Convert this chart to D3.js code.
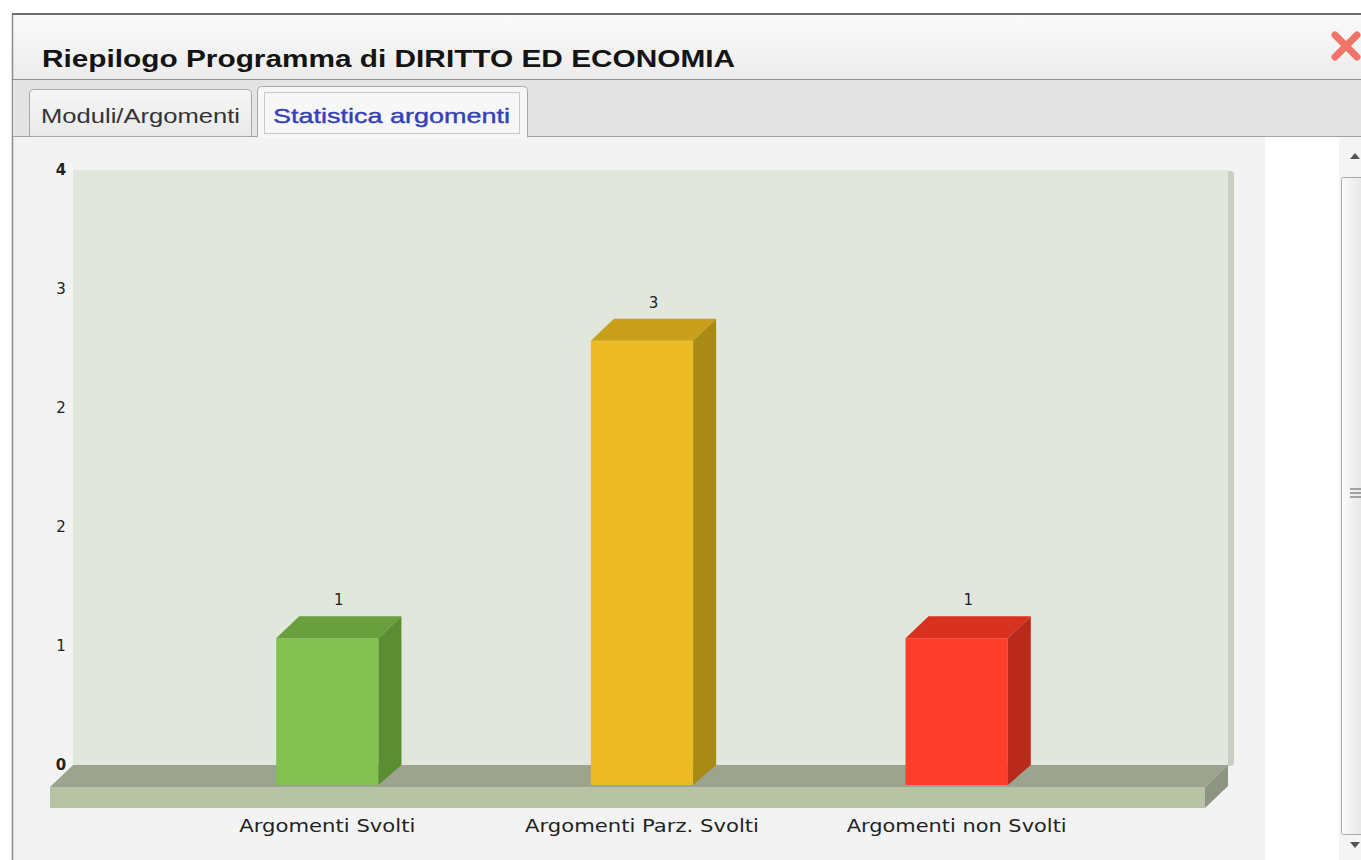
<!DOCTYPE html>
<html>
<head>
<meta charset="utf-8">
<script src="https://cdn.jsdelivr.net/npm/d3@7"></script>
<style>
html,body{margin:0;padding:0;background:#fff;overflow:hidden;}
svg{display:block;}
</style>
</head>
<body>
<div id="chart"></div>
<script>
// ---- data ----
const title = "Riepilogo Programma di DIRITTO ED ECONOMIA";
const tabLabels = ["Moduli/Argomenti", "Statistica argomenti"];
const categories = ["Argomenti Svolti", "Argomenti Parz. Svolti", "Argomenti non Svolti"];
const values = [1, 3, 1];
const yTickValues = [0, 0.8, 1.6, 2.4, 3.2, 4];
const yMax = 4;
const frontColors = ["#82c152", "#ecba22", "#fe3d2b"];
const topColors = ["#6a9f3e", "#c9a01c", "#d9311f"];
const sideColors = ["#5b8d33", "#a98a15", "#b92a1c"];

const W = 1361, H = 860;
const svg = d3.select("#chart").append("svg").attr("width", W).attr("height", H);
const defs = svg.append("defs");

const g1 = defs.append("linearGradient").attr("id","titleGrad").attr("x1",0).attr("y1",0).attr("x2",0).attr("y2",1);
g1.append("stop").attr("offset","0%").attr("stop-color","#fafafa");
g1.append("stop").attr("offset","100%").attr("stop-color","#ececec");
const g2 = defs.append("linearGradient").attr("id","tabGrad").attr("x1",0).attr("y1",0).attr("x2",0).attr("y2",1);
g2.append("stop").attr("offset","0%").attr("stop-color","#f6f6f6");
g2.append("stop").attr("offset","100%").attr("stop-color","#e9e9e9");
const g3 = defs.append("linearGradient").attr("id","thumbGrad").attr("x1",0).attr("y1",0).attr("x2",1).attr("y2",0);
g3.append("stop").attr("offset","0%").attr("stop-color","#fbfbfb");
g3.append("stop").attr("offset","100%").attr("stop-color","#e6e6e6");

// ---- dialog frame ----
svg.append("rect").attr("x",0).attr("y",0).attr("width",W).attr("height",H).attr("fill","#ffffff");
svg.append("rect").attr("x",12).attr("y",14).attr("width",W-12).attr("height",H-14).attr("fill","#f3f3f3");
svg.append("rect").attr("x",13).attr("y",15).attr("width",W-13).attr("height",64).attr("fill","url(#titleGrad)");
svg.append("line").attr("x1",12).attr("x2",W).attr("y1",14).attr("y2",14).attr("stroke","#6a6a6a").attr("stroke-width",2);
svg.append("line").attr("x1",12.5).attr("x2",12.5).attr("y1",14).attr("y2",H).attr("stroke","#8a8a8a").attr("stroke-width",1.5);
svg.append("rect").attr("x",13).attr("y",80).attr("width",W-13).attr("height",56).attr("fill","#e4e4e4");
svg.append("line").attr("x1",13).attr("x2",W).attr("y1",79.5).attr("y2",79.5).attr("stroke","#8f8f8f");
svg.append("line").attr("x1",13).attr("x2",W).attr("y1",136.5).attr("y2",136.5).attr("stroke","#a3a3a3");

svg.append("text").attr("x",42).attr("y",67)
  .attr("font-family","Liberation Sans, Arial, sans-serif").attr("font-weight","bold")
  .attr("font-size",23).attr("fill","#141414")
  .attr("textLength",693).attr("lengthAdjust","spacingAndGlyphs").text(title);

// close X
const cx = 1346, cy = 46, r = 11;
[[-1,-1,1,1],[-1,1,1,-1]].forEach(d=>{
  svg.append("line").attr("x1",cx+d[0]*r).attr("y1",cy+d[1]*r).attr("x2",cx+d[2]*r).attr("y2",cy+d[3]*r)
    .attr("stroke","#f0746a").attr("stroke-width",7).attr("stroke-linecap","round");
});

// tabs
function tabPath(x0,x1,y0,y1,rad){
  return `M${x0},${y1} L${x0},${y0+rad} Q${x0},${y0} ${x0+rad},${y0} L${x1-rad},${y0} Q${x1},${y0} ${x1},${y0+rad} L${x1},${y1}`;
}
svg.append("path").attr("d",tabPath(29.5,251.5,89.5,136.5,4)+" Z").attr("fill","url(#tabGrad)").attr("stroke","#a9a9a9");
svg.append("rect").attr("x",258).attr("y",87).attr("width",269).attr("height",51).attr("fill","#f7f7f7");
svg.append("path").attr("d",tabPath(257.5,527.5,86.5,137.5,4)).attr("fill","none").attr("stroke","#a9a9a9");
svg.append("rect").attr("x",264.5).attr("y",92.5).attr("width",255).attr("height",41)
  .attr("fill","none").attr("stroke","#9a9a9a").attr("stroke-dasharray","1,1");
svg.append("text").attr("x",41).attr("y",123)
  .attr("font-family","Liberation Sans, Arial, sans-serif").attr("font-size",21).attr("fill","#333")
  .attr("textLength",199).attr("lengthAdjust","spacingAndGlyphs").text(tabLabels[0]);
svg.append("text").attr("x",273).attr("y",123)
  .attr("font-family","Liberation Sans, Arial, sans-serif").attr("font-size",21).attr("fill","#3540b8")
  .attr("stroke","#3540b8").attr("stroke-width",0.4)
  .attr("textLength",237).attr("lengthAdjust","spacingAndGlyphs").text(tabLabels[1]);

// white side column + scrollbar
svg.append("rect").attr("x",1265).attr("y",137).attr("width",74).attr("height",H-137).attr("fill","#ffffff");
svg.append("rect").attr("x",1339).attr("y",137).attr("width",22).attr("height",H-137).attr("fill","#f4f4f4");
svg.append("rect").attr("x",1341.5).attr("y",177.5).attr("width",22).attr("height",657).attr("rx",2)
  .attr("fill","url(#thumbGrad)").attr("stroke","#a8a8a8");
[489,493,497].forEach(y=>svg.append("line").attr("x1",1350).attr("x2",1361).attr("y1",y).attr("y2",y).attr("stroke","#8a8a8a").attr("stroke-width",1.5));
svg.append("path").attr("d","M1350,159 L1355,153 L1360,159 Z").attr("fill","#555");
svg.append("path").attr("d","M1350,842 L1355,848 L1360,842 Z").attr("fill","#555");

// ---- chart ----
const dx = 23, dy = 22;
const yBack = d3.scaleLinear().domain([0, yMax]).range([765, 170]);
const yFront = v => yBack(v) + dy;
const x = d3.scaleBand().domain(categories).range([170, 1114]).paddingInner(0.675).paddingOuter(0.3375);
const bw = x.bandwidth();

const wallL = 73, wallR = 1228;
svg.append("rect").attr("x",wallR-6).attr("y",yBack(yMax)+1).attr("width",12).attr("height",yBack(0)-yBack(yMax)).attr("rx",4)
  .attr("fill","#c9cec3");
svg.append("rect").attr("x",wallL).attr("y",yBack(yMax)).attr("width",wallR-wallL).attr("height",yBack(0)-yBack(yMax))
  .attr("fill","#e2e7dd");
// floor
svg.append("polygon").attr("points",[[wallL,yBack(0)],[wallR,yBack(0)],[wallR-dx,yFront(0)],[wallL-dx,yFront(0)]].join(" "))
  .attr("fill","#9ca38f");
svg.append("rect").attr("x",wallL-dx).attr("y",yFront(0)).attr("width",wallR-wallL).attr("height",21).attr("fill","#b8c3a6");
svg.append("polygon").attr("points",[[wallR,yBack(0)],[wallR,yBack(0)+21],[wallR-dx,yFront(0)+21],[wallR-dx,yFront(0)]].join(" "))
  .attr("fill","#8c957f");

// y labels
svg.append("g").selectAll("text").data(yTickValues).join("text")
  .attr("x",61).attr("y",d=>yBack(d)+5).attr("text-anchor","middle")
  .attr("font-family","DejaVu Sans, Verdana, sans-serif").attr("font-size",15)
  .attr("font-weight",d=>(d===0||d===yMax)?"bold":"normal")
  .attr("fill","#222").text(d=>d3.format(".0f")(d));

// bars
const bars = svg.append("g").selectAll("g").data(categories).join("g");
bars.append("rect").attr("x",d=>x(d)).attr("y",(d,i)=>yFront(values[i]))
  .attr("width",bw).attr("height",(d,i)=>yFront(0)-yFront(values[i])-2)
  .attr("fill",(d,i)=>frontColors[i]);
bars.append("polygon").attr("points",(d,i)=>{
  const x0=x(d), yt=yFront(values[i]);
  return [[x0,yt],[x0+dx,yt-dy],[x0+bw+dx,yt-dy],[x0+bw,yt]].join(" ");
}).attr("fill",(d,i)=>topColors[i]);
bars.append("polygon").attr("points",(d,i)=>{
  const x1=x(d)+bw, yt=yFront(values[i]);
  return [[x1,yt],[x1+dx,yt-dy],[x1+dx,yBack(0)],[x1,yFront(0)-2]].join(" ");
}).attr("fill",(d,i)=>sideColors[i]);
// value labels
bars.append("text").attr("x",d=>x(d)+bw/2+dx/2).attr("y",(d,i)=>yBack(values[i])-11)
  .attr("text-anchor","middle").attr("font-family","DejaVu Sans, Verdana, sans-serif").attr("font-size",15)
  .attr("fill","#222").text((d,i)=>values[i]);

// x labels
const xLabelW = [176, 234, 220];
svg.append("g").selectAll("text").data(categories).join("text")
  .attr("x",(d,i)=>x(d)+bw/2-xLabelW[i]/2).attr("y",832)
  .attr("font-family","DejaVu Sans, Verdana, sans-serif").attr("font-size",17)
  .attr("fill","#222").attr("textLength",(d,i)=>xLabelW[i]).attr("lengthAdjust","spacingAndGlyphs")
  .text(d=>d);
</script>
</body>
</html>
